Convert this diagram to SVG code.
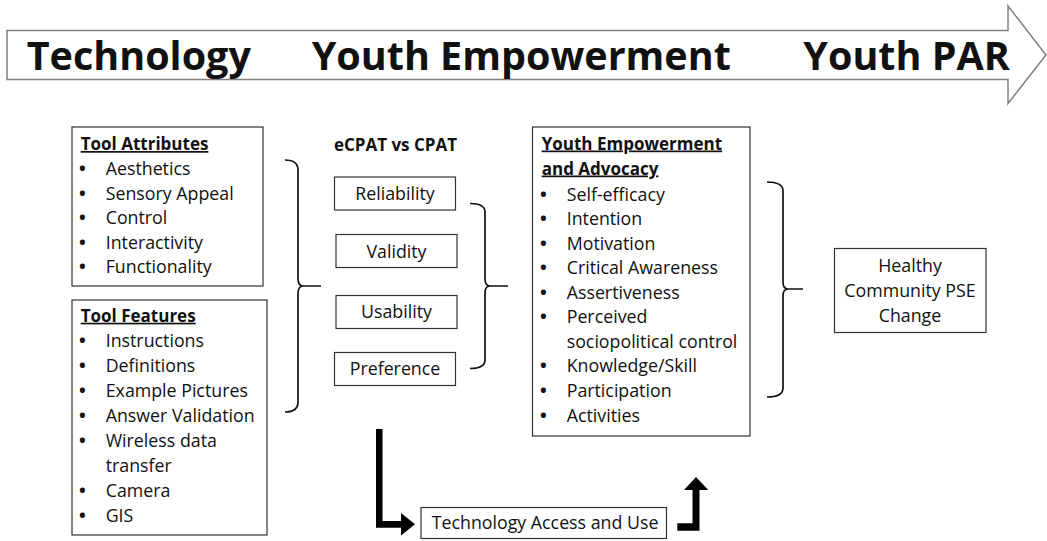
<svg xmlns="http://www.w3.org/2000/svg" width="1047" height="541" viewBox="0 0 1047 541">
  <style>
    text { font-family: "Open Sans", "Liberation Sans", sans-serif; fill: #111; }
    .hdr { font-size: 39.5px; font-weight: bold; }
    .ttl { font-size: 17px; font-weight: bold; text-decoration: underline; }
    .sub { font-size: 17px; font-weight: bold; }
    .itm { font-size: 17.8px; }
    .dot { font-size: 18px; font-weight: bold; }
    .mid { text-anchor: middle; }
    .box { fill: #fff; stroke: #333; stroke-width: 1.2; }
    .brace { fill: none; stroke: #111; stroke-width: 1.7; }
    .bold-arrow { fill: #000; }
  </style>

  <!-- banner arrow across the top -->
  <g id="banner">
    <polygon points="7,30.5 1008,30.5 1008,6 1046,55 1008,103.5 1008,79.5 7,79.5" fill="#fff" stroke="#808080" stroke-width="1.5"/>
    <text class="hdr" x="26.7" y="70">Technology</text>
    <text class="hdr" x="311.7" y="70">Youth Empowerment</text>
    <text class="hdr" x="803.3" y="70">Youth PAR</text>
  </g>

  <g id="tool-attributes">
    <rect class="box" x="72" y="127" width="191" height="159"/>
    <text class="ttl" x="80.7" y="150">Tool Attributes</text>
    <text class="dot" x="79" y="175">•</text><text class="itm" x="105.7" y="175">Aesthetics</text>
    <text class="dot" x="79" y="199.5">•</text><text class="itm" x="105.7" y="199.5">Sensory Appeal</text>
    <text class="dot" x="79" y="224">•</text><text class="itm" x="105.7" y="224">Control</text>
    <text class="dot" x="79" y="248.5">•</text><text class="itm" x="105.7" y="248.5">Interactivity</text>
    <text class="dot" x="79" y="273">•</text><text class="itm" x="105.7" y="273">Functionality</text>
  </g>

  <g id="tool-features">
    <rect class="box" x="72" y="300" width="195" height="235"/>
    <text class="ttl" x="80.7" y="321.7">Tool Features</text>
    <text class="dot" x="79" y="346.7">•</text><text class="itm" x="105.7" y="346.7">Instructions</text>
    <text class="dot" x="79" y="371.7">•</text><text class="itm" x="105.7" y="371.7">Definitions</text>
    <text class="dot" x="79" y="396.7">•</text><text class="itm" x="105.7" y="396.7">Example Pictures</text>
    <text class="dot" x="79" y="421.7">•</text><text class="itm" x="105.7" y="421.7">Answer Validation</text>
    <text class="dot" x="79" y="446.7">•</text><text class="itm" x="105.7" y="446.7">Wireless data</text>
    <text class="itm" x="105.7" y="471.7">transfer</text>
    <text class="dot" x="79" y="496.7">•</text><text class="itm" x="105.7" y="496.7">Camera</text>
    <text class="dot" x="79" y="521.7">•</text><text class="itm" x="105.7" y="521.7">GIS</text>
  </g>

  <g id="comparison-heading">
    <text class="sub mid" x="395.5" y="150.5">eCPAT vs CPAT</text>
  </g>

  <g id="reliability">
    <rect class="box" x="334.5" y="177" width="121" height="33"/>
    <text class="itm mid" x="395" y="200">Reliability</text>
  </g>
  <g id="validity">
    <rect class="box" x="336" y="234.5" width="121" height="33"/>
    <text class="itm mid" x="396.5" y="257.7">Validity</text>
  </g>
  <g id="usability">
    <rect class="box" x="336" y="295.5" width="121" height="33"/>
    <text class="itm mid" x="396.5" y="318.3">Usability</text>
  </g>
  <g id="preference">
    <rect class="box" x="334.5" y="352.5" width="121" height="33"/>
    <text class="itm mid" x="395" y="375">Preference</text>
  </g>

  <g id="youth-empowerment">
    <rect class="box" x="532.5" y="127" width="217.5" height="309"/>
    <text class="ttl" x="541.7" y="149.5">Youth Empowerment</text>
    <text class="ttl" x="541.7" y="174.5">and Advocacy</text>
    <text class="dot" x="540" y="200.5">•</text><text class="itm" x="566.7" y="200.5">Self-efficacy</text>
    <text class="dot" x="540" y="225">•</text><text class="itm" x="566.7" y="225">Intention</text>
    <text class="dot" x="540" y="249.5">•</text><text class="itm" x="566.7" y="249.5">Motivation</text>
    <text class="dot" x="540" y="274">•</text><text class="itm" x="566.7" y="274">Critical Awareness</text>
    <text class="dot" x="540" y="298.5">•</text><text class="itm" x="566.7" y="298.5">Assertiveness</text>
    <text class="dot" x="540" y="323">•</text><text class="itm" x="566.7" y="323">Perceived</text>
    <text class="itm" x="566.7" y="347.5">sociopolitical control</text>
    <text class="dot" x="540" y="372">•</text><text class="itm" x="566.7" y="372">Knowledge/Skill</text>
    <text class="dot" x="540" y="396.7">•</text><text class="itm" x="566.7" y="396.7">Participation</text>
    <text class="dot" x="540" y="421.5">•</text><text class="itm" x="566.7" y="421.5">Activities</text>
  </g>

  <g id="healthy-community">
    <rect class="box" x="834.5" y="248.5" width="151.5" height="84"/>
    <text class="itm mid" x="910" y="271.7">Healthy</text>
    <text class="itm mid" x="910" y="296.7">Community PSE</text>
    <text class="itm mid" x="910" y="321.7">Change</text>
  </g>

  <g id="technology-access">
    <rect class="box" x="421" y="507.5" width="245.5" height="31"/>
    <text class="itm" x="431.7" y="529.3">Technology Access and Use</text>
  </g>

  <!-- braces and arrows linking the stages -->
  <g id="connectors">
    <path class="brace" d="M285,160 Q298,160 298,170 L298,278 Q298,286 303,286 Q298,286 298,294 L298,402 Q298,412 285,412 M301,286 H321"/>
    <path class="brace" d="M470,203.5 Q485,203.5 485,212 L485,279 Q485,286 490,286 Q485,286 485,293 L485,360 Q485,368.5 470,368.5 M488,286 H508"/>
    <path class="brace" d="M767,182 Q783,182 783,191 L783,282 Q783,289 788,289 Q783,289 783,296 L783,388 Q783,397 767,397 M786,289 H803"/>
    <polygon class="bold-arrow" points="376,429 382.5,429 382.5,521 401,521 401,513 415,524.2 401,535.5 401,527.7 376,527.7"/>
    <polygon class="bold-arrow" points="677.3,523.3 692.5,523.3 692.5,490 684,490 696,477 708.3,490 699.5,490 699.5,530.7 677.3,530.7"/>
  </g>
</svg>
